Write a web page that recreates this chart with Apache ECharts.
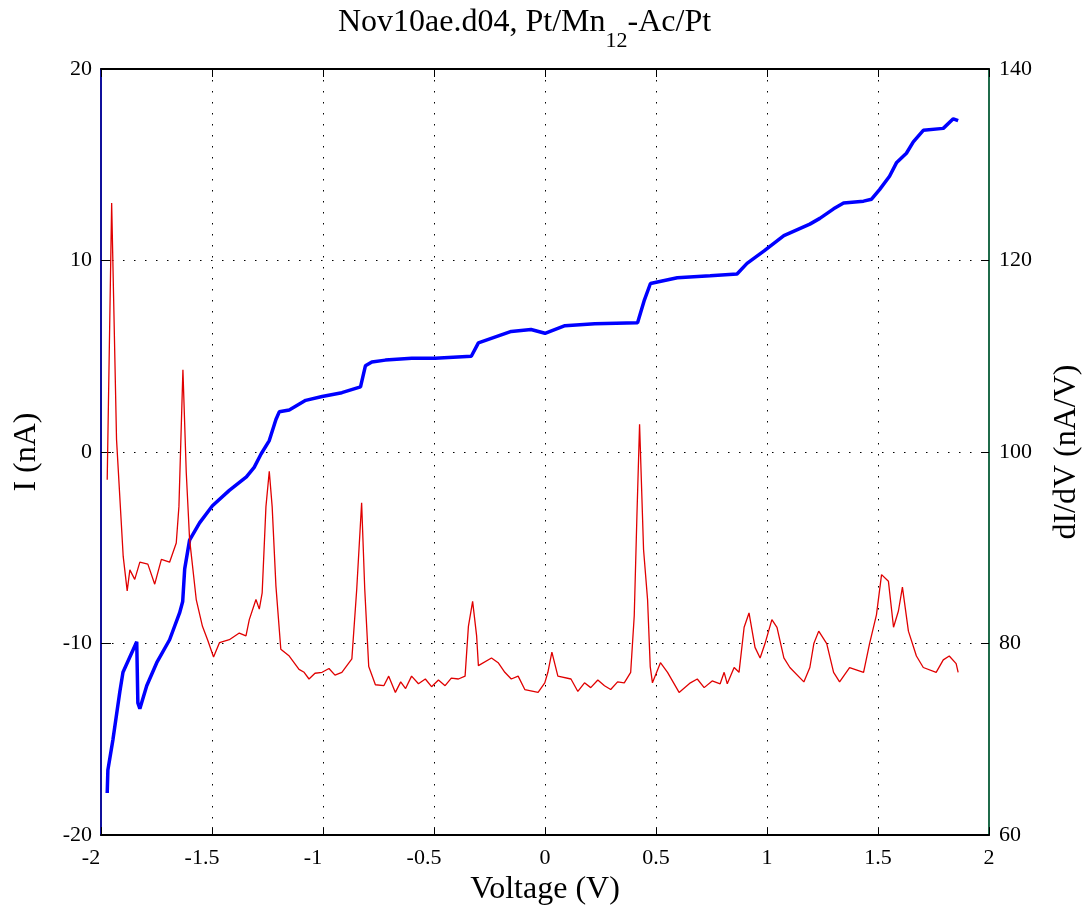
<!DOCTYPE html>
<html>
<head>
<meta charset="utf-8">
<title>Nov10ae.d04</title>
<script src="https://cdn.jsdelivr.net/npm/echarts@6/dist/echarts.min.js"></script>
<style>
    html, body { margin: 0; padding: 0; background: #fff; }
    #main { width: 1091px; height: 911px; }
</style>
</head>
<body>
<div id="main"></div>
<script>
// I-V curve (left axis, nA)
var ivVoltage = [-1.972, -1.969, -1.946, -1.915, -1.901, -1.870, -1.839, -1.834, -1.825, -1.794,
    -1.749, -1.691, -1.646, -1.632, -1.623, -1.601, -1.556, -1.498, -1.422, -1.345,
    -1.310, -1.279, -1.242, -1.212, -1.197, -1.152, -1.078, -1.004, -0.915, -0.831,
    -0.809, -0.780, -0.719, -0.600, -0.495, -0.332, -0.300, -0.152, -0.063, 0.000,
    0.090, 0.224, 0.417, 0.448, 0.475, 0.596, 0.744, 0.865, 0.910, 0.987,
    1.076, 1.193, 1.238, 1.300, 1.345, 1.435, 1.471, 1.507, 1.552, 1.583,
    1.628, 1.659, 1.704, 1.794, 1.839, 1.861];
var ivCurrent = [-17.8, -16.6, -15.0, -12.5, -11.5, -10.7, -9.9, -13.1, -13.4, -12.2,
    -11.0, -9.8, -8.4, -7.8, -6.1, -4.6, -3.7, -2.8, -2.0, -1.3,
    -0.8, -0.1, 0.6, 1.7, 2.1, 2.2, 2.7, 2.9, 3.1, 3.4,
    4.5, 4.7, 4.8, 4.9, 4.9, 5.0, 5.7, 6.3, 6.4, 6.2,
    6.6, 6.7, 6.75, 7.95, 8.8, 9.1, 9.2, 9.3, 9.85, 10.5,
    11.3, 11.9, 12.2, 12.7, 13.0, 13.1, 13.2, 13.7, 14.4, 15.1,
    15.6, 16.2, 16.8, 16.9, 17.4, 17.3];

// dI/dV curve (right axis, nA/V)
var didvVoltage = [
    -1.972, -1.952, -1.930, -1.900, -1.882, -1.870, -1.848, -1.825, -1.789, -1.758,
    -1.728, -1.691, -1.661, -1.649, -1.631, -1.616, -1.601, -1.571, -1.543, -1.520,
    -1.493, -1.466, -1.422, -1.377, -1.347, -1.332, -1.302, -1.287, -1.274, -1.257,
    -1.242, -1.229, -1.212, -1.190, -1.152, -1.108, -1.085, -1.063, -1.036, -1.004,
    -0.973, -0.946, -0.915, -0.870, -0.848, -0.826, -0.812, -0.794, -0.764, -0.726,
    -0.704, -0.674, -0.650, -0.628, -0.601, -0.570, -0.539, -0.511, -0.480, -0.450,
    -0.422, -0.390, -0.360, -0.345, -0.326, -0.308, -0.300, -0.241, -0.211, -0.181,
    -0.152, -0.121, -0.091, -0.031, -0.001, 0.013, 0.031, 0.058, 0.117, 0.148,
    0.178, 0.206, 0.238, 0.268, 0.296, 0.327, 0.357, 0.386, 0.402, 0.414,
    0.426, 0.444, 0.462, 0.474, 0.484, 0.520, 0.552, 0.604, 0.655, 0.686,
    0.717, 0.753, 0.789, 0.807, 0.821, 0.852, 0.874, 0.897, 0.919, 0.946,
    0.969, 0.991, 1.022, 1.045, 1.076, 1.103, 1.166, 1.193, 1.211, 1.233,
    1.269, 1.300, 1.327, 1.372, 1.435, 1.462, 1.493, 1.516, 1.547, 1.570,
    1.592, 1.610, 1.637, 1.673, 1.704, 1.762, 1.794, 1.821, 1.852, 1.861];
var didvValue = [
    97.1, 126.0, 101.3, 89.1, 85.5, 87.7, 86.7, 88.5, 88.3, 86.2,
    88.8, 88.5, 90.5, 94.3, 108.6, 97.9, 90.9, 84.6, 81.8, 80.4,
    78.6, 80.1, 80.4, 81.1, 80.8, 82.5, 84.6, 83.6, 85.3, 94.3,
    98.0, 94.3, 86.0, 79.4, 78.7, 77.3, 77.0, 76.3, 76.9, 77.0,
    77.4, 76.7, 77.0, 78.4, 85.7, 94.7, 85.7, 77.6, 75.7, 75.6,
    76.6, 74.9, 76.0, 75.3, 76.6, 75.8, 76.3, 75.5, 76.2, 75.6,
    76.4, 76.3, 76.6, 81.8, 84.4, 80.8, 77.7, 78.5, 78.0, 77.0,
    76.3, 76.6, 75.2, 74.9, 75.9, 77.0, 79.1, 76.6, 76.3, 75.0,
    75.9, 75.4, 76.2, 75.6, 75.2, 76.0, 75.9, 77.0, 82.9, 93.3,
    102.9, 89.8, 84.6, 77.6, 75.9, 78.0, 77.0, 74.9, 75.9, 76.3,
    75.4, 76.1, 75.8, 77.0, 75.8, 77.5, 77.0, 81.7, 83.2, 79.6,
    78.5, 80.0, 82.5, 81.7, 78.5, 77.5, 76.0, 77.5, 80.0, 81.3,
    80.0, 77.0, 76.0, 77.5, 77.0, 80.0, 83.0, 87.2, 86.5, 81.7,
    83.4, 85.9, 81.3, 78.7, 77.5, 77.0, 78.3, 78.7, 77.9, 77.0];

var xTicks = [-2, 2, 0.5];
var iTicks = [-20, 20, 10];
var gTicks = [60, 140, 20];

function pairs(xs, ys) {
    var out = [];
    for (var i = 0; i < xs.length; i++) out.push([xs[i], ys[i]]);
    return out;
}

var serif = '"Liberation Serif", "DejaVu Serif", serif';
var dotted = { color: '#000', width: 1, type: [1.5, 9.5] };

var myChart = echarts.init(document.getElementById('main'));
var option = {
    backgroundColor: '#fff',
    animation: false,
    textStyle: { fontFamily: serif, color: '#000' },
    title: {
        text: '{a|Nov10ae.d04, Pt/Mn}{s|12}{a|-Ac/Pt}',
        left: 333,
        top: 0,
        textStyle: {
            fontWeight: 'normal',
            rich: {
                a: { fontFamily: serif, fontSize: 32, fontWeight: 'normal', color: '#000', lineHeight: 36 },
                s: { fontFamily: serif, fontSize: 22, fontWeight: 'normal', color: '#000', lineHeight: 22, padding: [36, 0, 0, 0] }
            }
        }
    },
    grid: { left: 101, right: 98, top: 69, bottom: 75 },
    xAxis: [
        {
            type: 'value',
            min: xTicks[0], max: xTicks[1], interval: xTicks[2],
            position: 'bottom',
            name: 'Voltage (V)',
            nameLocation: 'middle',
            nameGap: 32,
            nameTextStyle: { fontFamily: serif, fontSize: 32, color: '#000' },
            axisLine: { onZero: false, lineStyle: { color: '#000', width: 2 } },
            axisTick: { inside: true, length: 8, lineStyle: { color: '#000', width: 1 } },
            axisLabel: {
                margin: 12,
                fontFamily: serif, fontSize: 22, color: '#000',
                formatter: function (v) {
                    return v < 0 ? '{n|' + v + '}' : '{p|' + v + '}';
                },
                rich: {
                    n: { fontFamily: serif, fontSize: 22, color: '#000', padding: [0, 20, 0, 0] },
                    p: { fontFamily: serif, fontSize: 22, color: '#000' }
                }
            },
            splitLine: { show: true, lineStyle: dotted }
        },
        {
            type: 'value',
            min: xTicks[0], max: xTicks[1], interval: xTicks[2],
            position: 'top',
            axisLine: { onZero: false, lineStyle: { color: '#000', width: 2 } },
            axisTick: { inside: true, length: 8, lineStyle: { color: '#000', width: 1 } },
            axisLabel: { show: false },
            splitLine: { show: false }
        }
    ],
    yAxis: [
        {
            type: 'value',
            min: iTicks[0], max: iTicks[1], interval: iTicks[2],
            position: 'left',
            name: 'I (nA)',
            nameLocation: 'middle',
            nameGap: 58,
            nameTextStyle: { fontFamily: serif, fontSize: 32, color: '#000' },
            axisLine: { onZero: false, lineStyle: { color: '#10109c', width: 2 } },
            axisTick: { inside: true, length: 10, lineStyle: { color: '#000', width: 1 } },
            axisLabel: { margin: 9, fontFamily: serif, fontSize: 22, color: '#000' },
            splitLine: { show: true, lineStyle: dotted }
        },
        {
            type: 'value',
            min: gTicks[0], max: gTicks[1], interval: gTicks[2],
            position: 'right',
            name: 'dI/dV (nA/V)',
            nameLocation: 'middle',
            nameGap: 62,
            nameTextStyle: { fontFamily: serif, fontSize: 32, color: '#000' },
            axisLine: { onZero: false, lineStyle: { color: '#1f6b4a', width: 2 } },
            axisTick: { inside: true, length: 8, lineStyle: { color: '#000', width: 1 } },
            axisLabel: { margin: 10, fontFamily: serif, fontSize: 22, color: '#000' },
            splitLine: { show: false }
        }
    ],
    series: [
        {
            name: 'I',
            type: 'line',
            xAxisIndex: 0,
            yAxisIndex: 0,
            showSymbol: false,
            lineStyle: { color: '#0000ff', width: 3.5 },
            data: pairs(ivVoltage, ivCurrent)
        },
        {
            name: 'dI/dV',
            type: 'line',
            xAxisIndex: 0,
            yAxisIndex: 1,
            showSymbol: false,
            lineStyle: { color: '#e00000', width: 1.3 },
            data: pairs(didvVoltage, didvValue)
        }
    ]
};
myChart.setOption(option);
</script>
</body>
</html>
